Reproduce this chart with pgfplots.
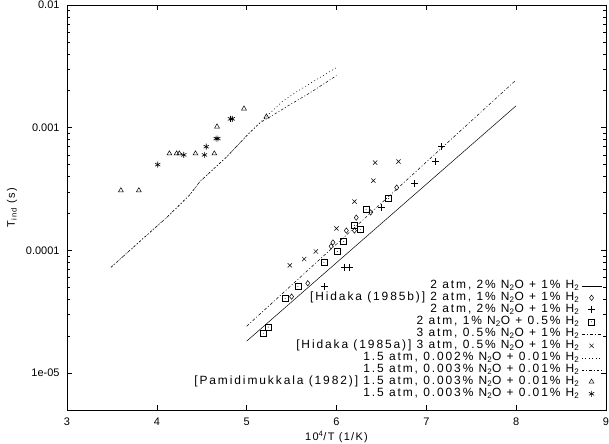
\documentclass[border=0pt]{standalone}
\usepackage{fontspec}
\setmainfont{Liberation Sans}[LetterSpace=12.0]
\newfontfamily\tickfont{Liberation Sans}
\newfontfamily\legfont{Liberation Sans}[LetterSpace=16.0]
\usepackage{pgfplots}
\pgfplotsset{compat=1.18}

% square with a dot in the middle, like the gnuplot box point
\pgfdeclareplotmark{sqdot}{%
  \pgfpathrectangle{\pgfpoint{-\pgfplotmarksize}{-\pgfplotmarksize}}{\pgfpoint{2\pgfplotmarksize}{2\pgfplotmarksize}}%
  \pgfusepathqstroke
  \pgfpathcircle{\pgfpointorigin}{0.45bp}%
  \pgfusepathqfill}

\pgfplotsset{
  linelegend/.style={legend image code/.code={\draw[##1] (0bp,0bp) -- (20bp,0bp);}},
  marklegend/.style={legend image code/.code={\draw[##1] plot coordinates {(10bp,0bp)};}},
}

\begin{document}
\begin{tikzpicture}
\useasboundingbox (-67bp,-34bp) rectangle (542bp,410bp);
\begin{axis}[
    at={(0,0)}, anchor=south west,
    scale only axis,
    width=539bp, height=405bp,
    xmin=3, xmax=9,
    ymode=log, ymin=5e-6, ymax=0.01,
    xtick={3,4,5,6,7,8,9},
    ytick={1e-5,1e-4,1e-3,1e-2},
    yticklabels={1e-05,0.0001,0.001,0.01},
    /pgf/number format/assume math mode=true,
    tick label style={font=\tickfont\fontsize{11}{13}\selectfont},
    xticklabel style={yshift=-4bp},
    yticklabel style={xshift=-4bp},
    axis line style={line width=0.8bp},
    major tick length=5bp, minor tick length=3bp,
    every tick/.style={line width=0.6bp, black},
    xlabel={10\textsuperscript{4}/T (1/K)},
    ylabel={T\textsubscript{ind} (s)},
    label style={font=\fontsize{11}{13}\selectfont},
    xlabel style={at={(axis description cs:0.5,-0.067)}, anchor=center},
    ylabel style={at={(axis description cs:-0.102,0.5)}, anchor=center},
    legend plot pos=right,
    legend cell align=right,
    legend style={draw=none, fill=none,
      at={(rel axis cs:1,0)}, anchor=south east, xshift=-1bp, yshift=8bp,
      font=\legfont\fontsize{12}{13}\selectfont,
      row sep=0bp,
      nodes={inner xsep=2bp, inner ysep=0.5bp, text height=8.5bp, text depth=2.5bp}},
]

% 2 atm, 2% N2O + 1% H2 (model)
\addplot[black, line width=0.5bp, linelegend] coordinates {
  (5,1.82e-5) (8,1.51e-3)
};
\addlegendentry{2 atm, 2\% N\textsubscript{2}O + 1\% H\textsubscript{2}}

% Hidaka (1985b)
\addplot[black, only marks, mark=diamond, mark size=2.7bp, line width=0.5bp, marklegend] coordinates {
  (6.67,3.25e-4) (6.38,2.04e-4) (6.22,1.85e-4) (6.11,1.45e-4) (6.20,1.45e-4)
  (5.96,1.16e-4) (5.94,1.08e-4) (5.68,5.4e-5) (5.50,4.2e-5)
};
\addlegendentry{[Hidaka (1985b)] 2 atm, 1\% N\textsubscript{2}O + 1\% H\textsubscript{2}}

\addplot[black, only marks, mark=+, mark size=3.5bp, line width=0.7bp, marklegend] coordinates {
  (7.17,7.0e-4) (7.10,5.3e-4) (6.87,3.5e-4) (6.50,2.24e-4)
  (6.09,7.3e-5) (6.14,7.3e-5) (5.87,5.1e-5)
};
\addlegendentry{2 atm, 2\% N\textsubscript{2}O + 1\% H\textsubscript{2}}

\addplot[black, only marks, mark=sqdot, mark size=3bp, line width=0.6bp, marklegend] coordinates {
  (6.58,2.65e-4) (6.33,2.15e-4) (6.20,1.6e-4) (6.27,1.48e-4) (6.08,1.18e-4)
  (6.01,9.8e-5) (5.86,8.0e-5) (5.57,5.1e-5) (5.43,4.07e-5) (5.24,2.37e-5) (5.19,2.11e-5)
};
\addlegendentry{2 atm, 1\% N\textsubscript{2}O + 0.5\% H\textsubscript{2}}

% 3 atm (model)
\addplot[black, line width=0.5bp, dash pattern=on 3bp off 2bp on 1bp off 2bp, linelegend] coordinates {
  (5,2.41e-5) (8,2.45e-3)
};
\addlegendentry{3 atm, 0.5\% N\textsubscript{2}O + 1\% H\textsubscript{2}}

% Hidaka (1985a)
\addplot[black, only marks, mark=x, mark size=3bp, line width=0.5bp, marklegend] coordinates {
  (6.43,5.2e-4) (6.69,5.3e-4) (6.41,3.7e-4) (6.20,2.5e-4)
  (6.00,1.51e-4) (5.77,9.8e-5) (5.64,8.5e-5) (5.48,7.55e-5)
};
\addlegendentry{[Hidaka (1985a)] 3 atm, 0.5\% N\textsubscript{2}O + 1\% H\textsubscript{2}}

% 1.5 atm (model)
\addplot[black, line width=0.5bp, dash pattern=on 1bp off 2.5bp, linelegend] coordinates {
  (3.49,7.28e-5) (3.81,1.183e-4) (4.11,1.854e-4) (4.36,2.80e-4) (4.48,3.64e-4)
  (4.78,5.81e-4) (5.03,9.06e-4) (5.15,1.10e-3) (5.26,1.315e-3) (5.40,1.637e-3)
  (5.55,1.95e-3) (5.79,2.50e-3) (6.0,3.09e-3)
};
\addlegendentry{1.5 atm, 0.002\% N\textsubscript{2}O + 0.01\% H\textsubscript{2}}

\addplot[black, line width=0.5bp, dash pattern=on 2.5bp off 2bp on 1bp off 2bp, linelegend] coordinates {
  (3.49,7.28e-5) (3.81,1.183e-4) (4.11,1.854e-4) (4.36,2.80e-4) (4.48,3.64e-4)
  (4.78,5.81e-4) (5.03,9.06e-4) (5.15,1.10e-3) (5.27,1.236e-3) (5.48,1.538e-3)
  (5.70,1.914e-3) (5.90,2.38e-3) (6.0,2.66e-3)
};
\addlegendentry{1.5 atm, 0.003\% N\textsubscript{2}O + 0.01\% H\textsubscript{2}}

% Pamidimukkala (1982)
\addplot[black, only marks, mark=triangle, mark size=2.8bp, line width=0.5bp, marklegend] coordinates {
  (3.60,3.08e-4) (3.80,3.08e-4) (4.14,6.15e-4) (4.22,6.15e-4) (4.25,6.15e-4)
  (4.43,6.15e-4) (4.64,6.15e-4) (4.67,1.02e-3) (4.97,1.43e-3) (5.22,1.23e-3)
};
\addlegendentry{[Pamidimukkala (1982)] 1.5 atm, 0.003\% N\textsubscript{2}O + 0.01\% H\textsubscript{2}}

\addplot[black, only marks, mark=asterisk, mark size=3bp, line width=0.6bp, marklegend] coordinates {
  (4.01,5.0e-4) (4.30,6.0e-4) (4.53,6.0e-4) (4.55,7.0e-4)
  (4.66,8.15e-4) (4.68,8.15e-4) (4.82,1.18e-3) (4.84,1.18e-3)
};
\addlegendentry{1.5 atm, 0.003\% N\textsubscript{2}O + 0.01\% H\textsubscript{2}}

\end{axis}
\end{tikzpicture}
\end{document}
